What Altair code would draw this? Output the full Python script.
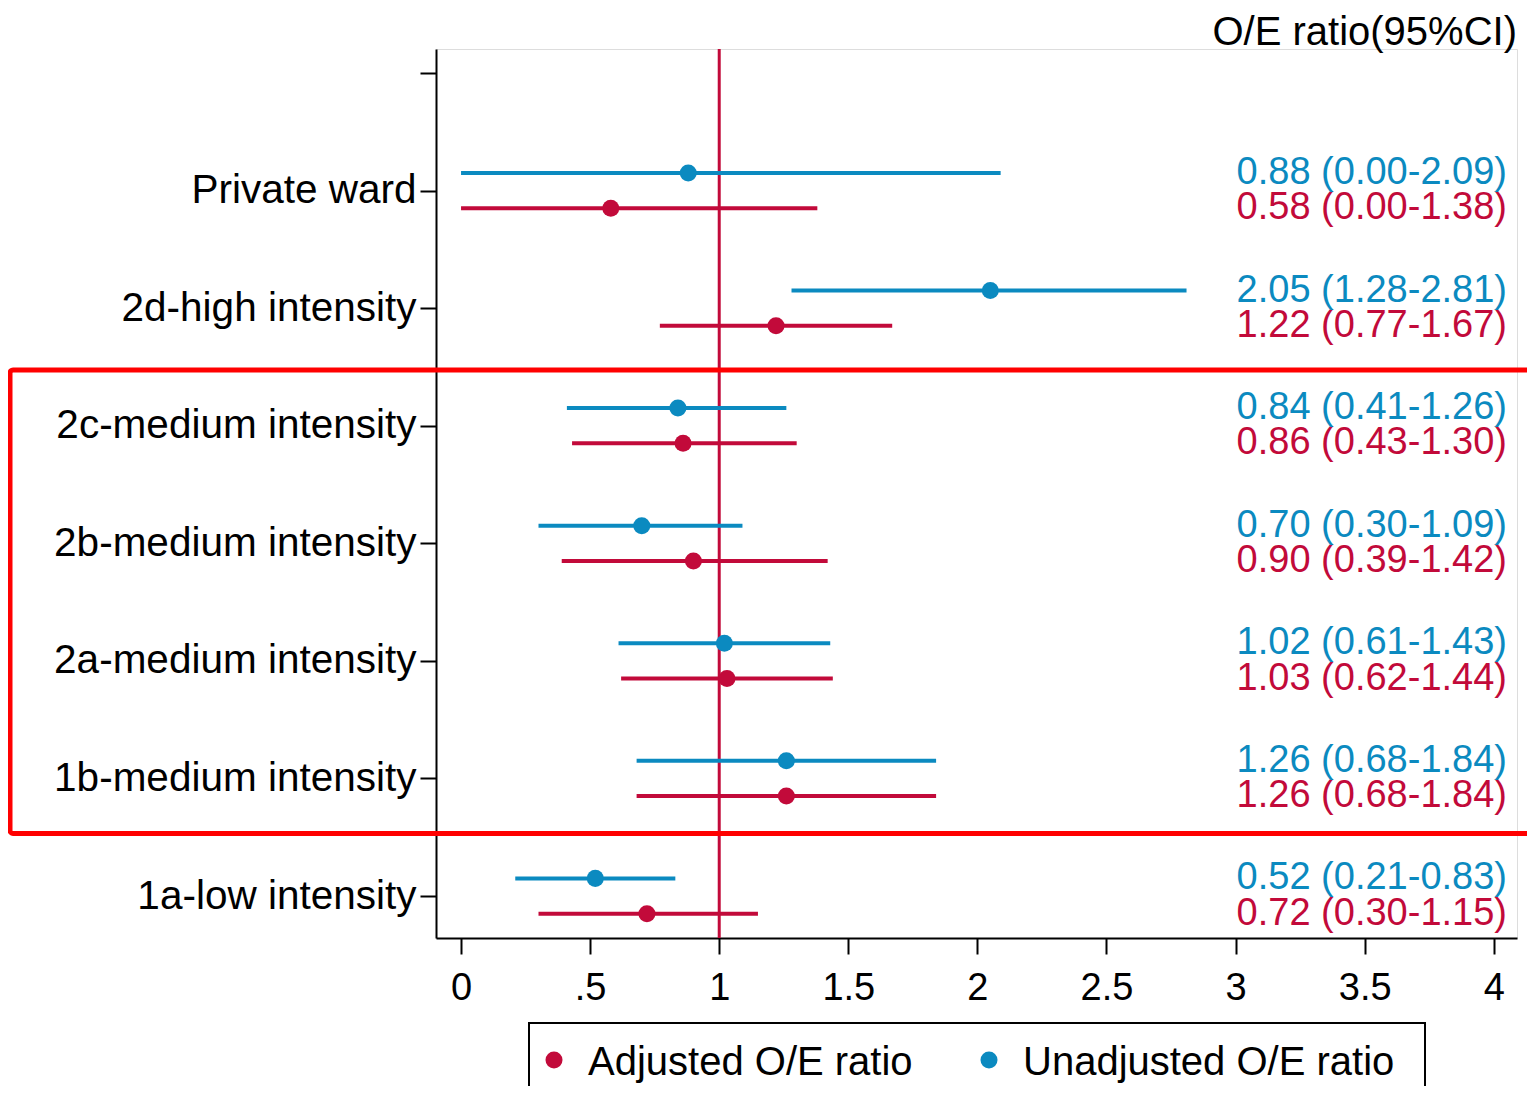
import altair as alt
import pandas as pd

# ---- data -------------------------------------------------------------
categories = ["1a-low intensity", "1b-medium intensity", "2a-medium intensity",
              "2b-medium intensity", "2c-medium intensity", "2d-high intensity",
              "Private ward"]
positions = [1, 2, 3, 4, 5, 6, 7]

adj_est = [0.72, 1.26, 1.03, 0.90, 0.86, 1.22, 0.58]
adj_lo = [0.30, 0.68, 0.62, 0.39, 0.43, 0.77, 0.00]
adj_hi = [1.15, 1.84, 1.44, 1.42, 1.30, 1.67, 1.38]

unadj_est = [0.52, 1.26, 1.02, 0.70, 0.84, 2.05, 0.88]
unadj_lo = [0.21, 0.68, 0.61, 0.30, 0.41, 1.28, 0.00]
unadj_hi = [0.83, 1.84, 1.43, 1.09, 1.26, 2.81, 2.09]

series_names = ["Adjusted O/E ratio", "Unadjusted O/E ratio"]
series_offsets = [-0.15, 0.15]
series_colors = ["#C20A3A", "#0B8AC0"]

x_ticks = [0, 0.5, 1, 1.5, 2, 2.5, 3, 3.5, 4]
x_tick_labels = ["0", ".5", "1", "1.5", "2", "2.5", "3", "3.5", "4"]
y_ticks = [1, 2, 3, 4, 5, 6, 7, 8]

ref_value = 1
box_x = [-1.747, 4.4]
box_y = [1.532, 5.474]
title_text = "O/E ratio(95%CI)"

# ---- table ------------------------------------------------------------
rows = []
for name, off, est, lo, hi in [
    (series_names[0], series_offsets[0], adj_est, adj_lo, adj_hi),
    (series_names[1], series_offsets[1], unadj_est, unadj_lo, unadj_hi),
]:
    for p, e, l, h in zip(positions, est, lo, hi):
        rows.append({"series": name, "y": p + off, "est": e, "lo": l, "hi": h,
                     "label": f"{e:.2f} ({l:.2f}-{h:.2f})"})
df = pd.DataFrame(rows)

FONT = "Liberation Sans"
x_scale = alt.Scale(domain=[-0.097, 4.09], nice=False, zero=False)
y_scale = alt.Scale(domain=[0.643, 8.204], nice=False, zero=False)
col_scale = alt.Scale(domain=series_names, range=series_colors)

x_label_expr = "[" + ",".join(f"'{s}'" for s in x_tick_labels) + "][round(datum.value*2)]"
y_label_expr = "['', " + ",".join(f"'{c}'" for c in categories) + ", ''][datum.value]"

x_axis = alt.Axis(values=x_ticks, labelExpr=x_label_expr, title=None, grid=False,
                  domainColor="black", domainWidth=2, tickColor="black", tickWidth=2,
                  tickSize=16, labelFontSize=38, labelFont=FONT, labelColor="black",
                  labelPadding=15, labelFlush=False, labelOverlap=False)
y_axis = alt.Axis(values=y_ticks, labelExpr=y_label_expr, title=None, grid=False,
                  domainColor="black", domainWidth=2, tickColor="black", tickWidth=2,
                  tickSize=16, labelFontSize=40.5, labelFont=FONT, labelColor="black",
                  labelPadding=4, labelFlush=False, labelOverlap=False, labelLimit=1000)

base = alt.Chart(df)

ref_line = alt.Chart(pd.DataFrame({"v": [ref_value]})).mark_rule(
    color=series_colors[0], strokeWidth=3
).encode(x=alt.X("v:Q", scale=x_scale, axis=x_axis))

ci = base.mark_rule(strokeWidth=4).encode(
    x=alt.X("lo:Q", scale=x_scale, axis=x_axis),
    x2="hi:Q",
    y=alt.Y("y:Q", scale=y_scale, axis=y_axis),
    stroke=alt.Stroke("series:N", scale=col_scale, legend=None),
)

pts = base.mark_circle(size=290, opacity=1).encode(
    x=alt.X("est:Q", scale=x_scale, axis=x_axis),
    y=alt.Y("y:Q", scale=y_scale, axis=y_axis),
    color=alt.Color("series:N", scale=col_scale, legend=None),
)

txt = base.mark_text(align="right", baseline="middle", fontSize=38, font=FONT).encode(
    x=alt.value(1071),
    y=alt.Y("y:Q", scale=y_scale, axis=y_axis),
    text="label:N",
    fill=alt.Fill("series:N", scale=col_scale, legend=None),
)

title = alt.Chart(pd.DataFrame({"t": [title_text]})).mark_text(
    align="right", baseline="alphabetic", fontSize=40, font=FONT, color="black"
).encode(x=alt.value(1081), y=alt.value(-4), text="t:N")

box = alt.Chart(pd.DataFrame({"x1": [box_x[0]], "x2": [box_x[1]],
                              "y1": [box_y[0]], "y2": [box_y[1]]})).mark_rect(
    fillOpacity=0, stroke="#FF0000", strokeWidth=5, cornerRadius=3, clip=False
).encode(
    x=alt.X("x1:Q", scale=x_scale, axis=x_axis), x2="x2:Q",
    y=alt.Y("y1:Q", scale=y_scale, axis=y_axis), y2="y2:Q",
)

# ---- legend (box below the axis, cut by the page edge) ----------------
leg_frame = alt.Chart(pd.DataFrame({"k": [0]})).mark_rect(
    fillOpacity=0, stroke="black", strokeWidth=2, clip=False
).encode(x=alt.value(93), x2=alt.value(989), y=alt.value(974), y2=alt.value(1070))


def legend_entry(name, color, sym_x):
    d = pd.DataFrame({"series": [name]})
    dot = alt.Chart(d).mark_circle(size=290, opacity=1, color=color).encode(
        x=alt.value(sym_x), y=alt.value(1011))
    lab = alt.Chart(d).mark_text(align="left", baseline="alphabetic", fontSize=40,
                                 font=FONT, color="black").encode(
        x=alt.value(sym_x + 34), y=alt.value(1026), text="series:N")
    return dot + lab


leg1 = legend_entry(series_names[0], series_colors[0], 118)
leg2 = legend_entry(series_names[1], series_colors[1], 553)

chart = alt.layer(ref_line, ci, pts, txt, title, box, leg_frame, leg1, leg2).properties(
    width=1081, height=889,
    autosize=alt.AutoSizeParams(type="none"),
    padding={"left": 428, "top": 41, "right": 10, "bottom": 148},
).configure_view(strokeWidth=0).configure(font=FONT, background="white")

chart.save("out.html", embed_options={"renderer": "svg", "actions": False})
